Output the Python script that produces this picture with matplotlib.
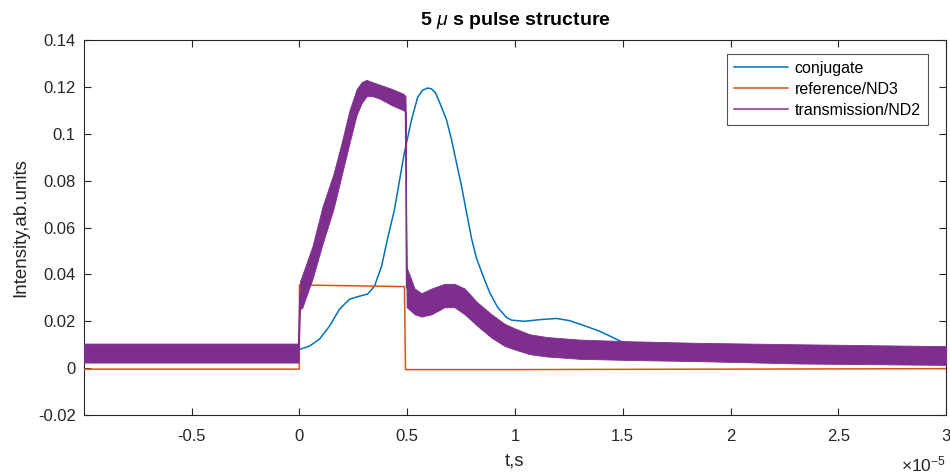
import numpy as np
import matplotlib
matplotlib.use("Agg")
import matplotlib.pyplot as plt

plt.rcParams['font.family'] = ['Liberation Sans', 'DejaVu Sans']
plt.rcParams['axes.unicode_minus'] = False
plt.rcParams['mathtext.fontset'] = 'custom'
plt.rcParams['mathtext.rm'] = 'Liberation Sans'
plt.rcParams['mathtext.it'] = 'Liberation Sans:italic'

# time axis in units of 1e-5 s
t_conj = [-1.0, -0.01, 0.0, 0.046, 0.093, 0.139, 0.186, 0.232, 0.278, 0.316,
          0.348, 0.381, 0.408, 0.441, 0.464, 0.487, 0.520, 0.548, 0.570, 0.594,
          0.612, 0.631, 0.650, 0.682, 0.705, 0.728, 0.752, 0.775, 0.798, 0.821,
          0.849, 0.882, 0.919, 0.960, 0.984, 1.044, 1.114, 1.193, 1.253, 1.332,
          1.392, 1.452, 1.499, 1.6, 1.8, 2.2, 3.0]
conjugate = [0.006, 0.006, 0.008, 0.0094, 0.0124, 0.0179, 0.0252, 0.0294, 0.0307, 0.0316,
             0.035, 0.0435, 0.055, 0.0678, 0.080, 0.092, 0.106, 0.1155, 0.1185, 0.1195,
             0.1192, 0.1175, 0.1134, 0.106, 0.0977, 0.0878, 0.0776, 0.0665, 0.0555, 0.047,
             0.040, 0.0324, 0.026, 0.0217, 0.0205, 0.0200, 0.0207, 0.0212, 0.0203, 0.0178,
             0.0158, 0.0132, 0.0111, 0.0095, 0.008, 0.007, 0.006]

t_ref = [-1.0, -0.001, 0.0, 0.487, 0.492, 1.0, 2.0, 3.0]
reference = [-0.0004, -0.0004, 0.0355, 0.0348, -0.0006, -0.0006, -0.0004, -0.0002]

# transmission signal: lower / upper envelope of the noisy trace
t_trans = [-1.0, -0.005, 0.002, 0.014, 0.060, 0.107, 0.158, 0.195, 0.232, 0.265,
           0.288, 0.311, 0.339, 0.371, 0.432, 0.483, 0.492, 0.497, 0.510, 0.534,
           0.566, 0.613, 0.673, 0.719, 0.766, 0.826, 0.891, 0.951, 0.998, 1.067,
           1.146, 1.299, 1.531, 1.856, 2.320, 3.0]
trans_lo = [0.0024, 0.0024, 0.025, 0.026, 0.038, 0.053, 0.068, 0.082, 0.096, 0.108,
            0.113, 0.116, 0.116, 0.115, 0.112, 0.110, 0.109, 0.026, 0.025, 0.023,
            0.022, 0.023, 0.026, 0.026, 0.023, 0.018, 0.013, 0.0095, 0.008, 0.006,
            0.005, 0.004, 0.0035, 0.003, 0.002, 0.0014]
trans_hi = [0.0105, 0.0105, 0.037, 0.040, 0.052, 0.069, 0.083, 0.096, 0.110, 0.119,
            0.122, 0.123, 0.122, 0.121, 0.119, 0.117, 0.116, 0.043, 0.040, 0.034,
            0.032, 0.034, 0.036, 0.036, 0.034, 0.028, 0.023, 0.019, 0.017, 0.0145,
            0.0133, 0.0122, 0.0115, 0.0108, 0.0102, 0.0094]

x_ticks = [-0.5, 0, 0.5, 1, 1.5, 2, 2.5, 3]
y_ticks = [-0.02, 0, 0.02, 0.04, 0.06, 0.08, 0.1, 0.12, 0.14]

c_blue = '#0072BD'
c_orange = '#D95319'
c_purple = '#7E2F8E'
c_axis = '#262626'

fig = plt.figure(figsize=(9.5, 4.76), dpi=100)
ax = fig.add_axes([0.0884, 0.128, 0.9074, 0.788])

ax.plot(t_conj, conjugate, color=c_blue, lw=1.1, label='conjugate', zorder=2)
ax.plot(t_ref, reference, color=c_orange, lw=1.1, label='reference/ND3', zorder=3)
lo = np.array(trans_lo)
hi = np.array(trans_hi)
ax.fill_between(t_trans, lo, hi, color=c_purple, lw=0.6, edgecolor=c_purple, zorder=4)
ax.plot(t_trans, (lo + hi) / 2, color=c_purple, lw=1.1, label='transmission/ND2', zorder=4)

ax.set_xlim(-1.0, 3.0)
ax.set_ylim(-0.02, 0.14)
ax.set_xticks(x_ticks)
ax.set_xticklabels(['%g' % v for v in x_ticks])
ax.set_yticks(y_ticks)
ax.set_yticklabels(['%g' % v for v in y_ticks])

ax.tick_params(direction='in', length=5, width=0.8, colors=c_axis,
               labelsize=12, top=True, right=True)
ax.tick_params(axis='x', pad=10)
ax.tick_params(axis='y', pad=6)
for s in ax.spines.values():
    s.set_color(c_axis)
    s.set_linewidth(0.8)

ax.set_title(r'5 $\mu$ s pulse structure', fontsize=14, fontweight='bold',
             color='black', pad=11)
ax.set_xlabel('t,s', fontsize=13.5, color=c_axis, labelpad=6)
ax.set_ylabel('Intensity,ab.units', fontsize=13.5, color=c_axis, labelpad=6)

ax.text(1.0, -0.105, r'$\times\mathregular{10^{-5}}$', transform=ax.transAxes,
        ha='right', va='top', fontsize=12.5, color=c_axis)

leg = ax.legend(loc='upper right', bbox_to_anchor=(0.979, 0.963), fontsize=11.5,
                frameon=True, fancybox=False, handlelength=3.4, borderpad=0.45,
                labelspacing=0.36, handletextpad=0.4, borderaxespad=0)
leg.get_frame().set_edgecolor(c_axis)
leg.get_frame().set_linewidth(0.8)

fig.savefig('out.png', dpi=100)
